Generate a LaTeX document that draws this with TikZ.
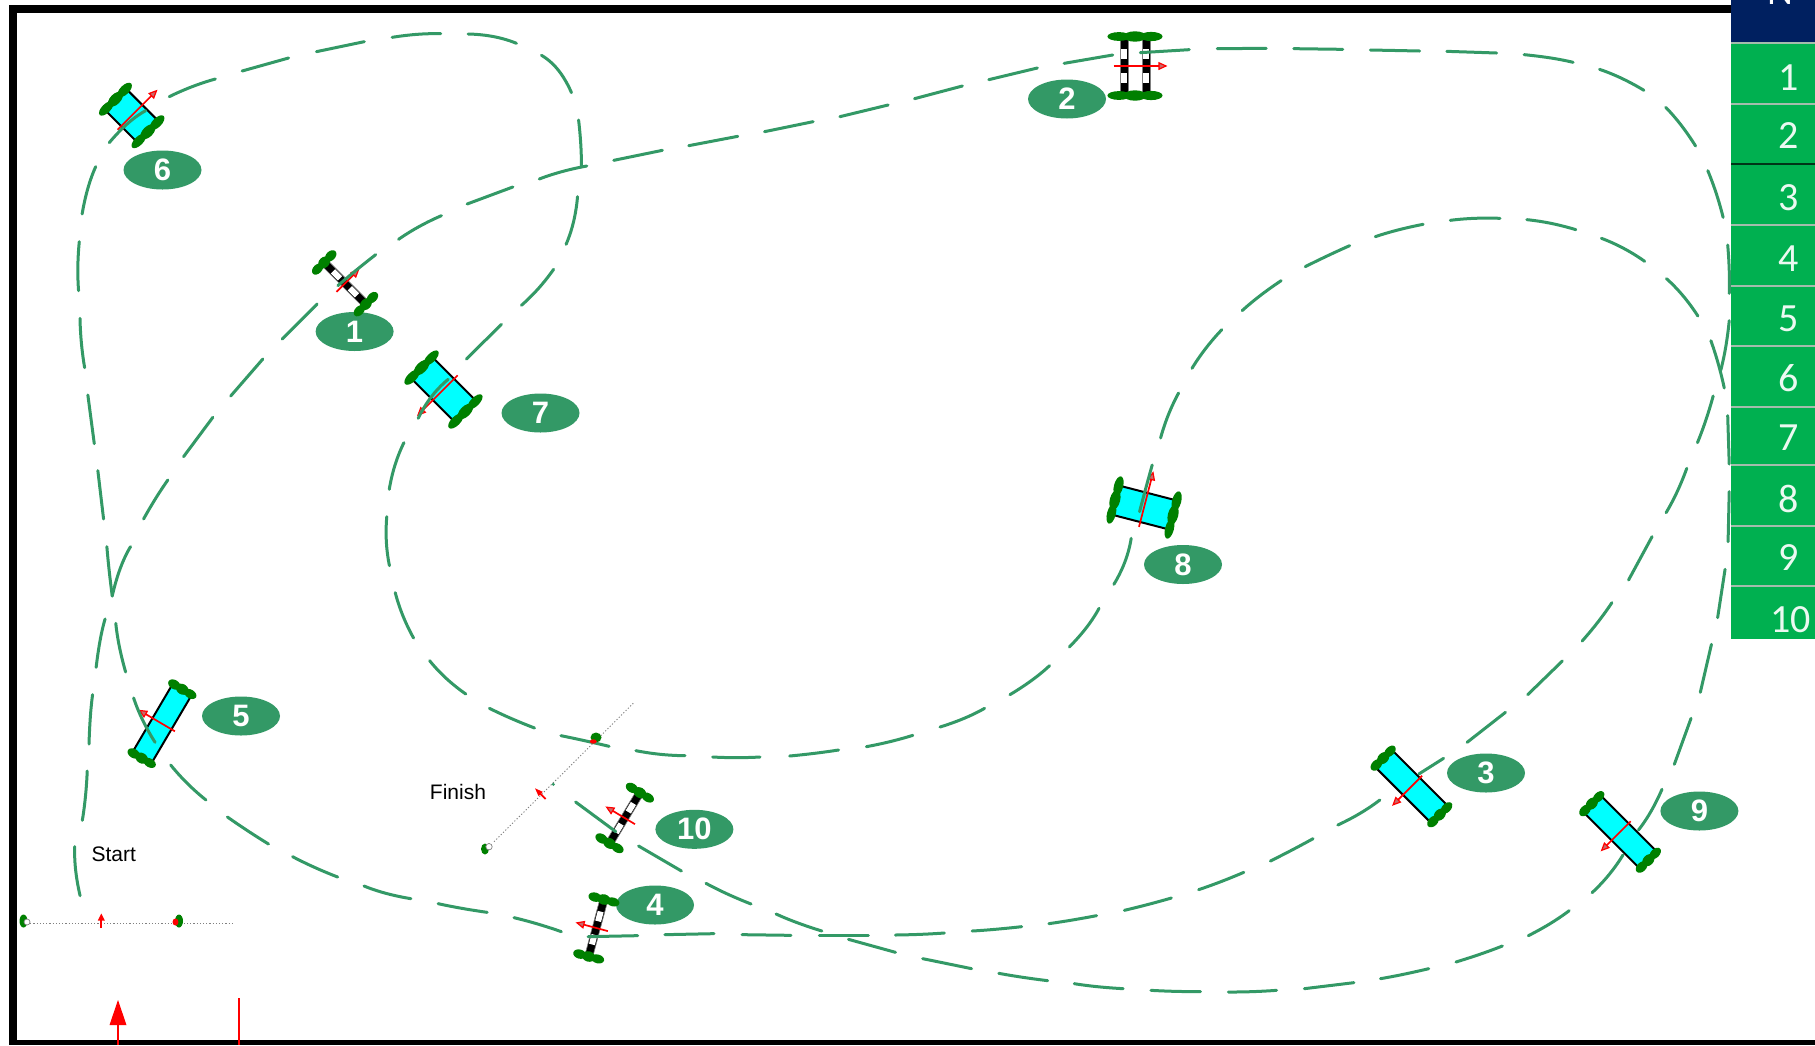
\documentclass[tikz,border=0pt]{standalone}
\usepackage{fontspec}
\setmainfont{Liberation Sans}
\newfontfamily\tablefont{Carlito}
\definecolor{trackc}{HTML}{339966}
\definecolor{wheelc}{HTML}{008000}
\definecolor{navyc}{HTML}{002060}
\definecolor{tablec}{HTML}{00B050}
\definecolor{headc}{HTML}{C86A6A}
\definecolor{carbody}{HTML}{00FFFF}
\definecolor{rowlinec}{HTML}{A4BCAC}
\tikzset{
  trackdash/.style={draw=trackc,line width=3pt,line cap=round},
  wheelblob/.style={fill=wheelc},
  carredline/.style={draw=red,line width=1.7pt},
  badge/.style={ellipse,fill=trackc,text=white,minimum width=78pt,minimum height=39pt,inner sep=0pt,font=\fontsize{31}{31}\selectfont\bfseries},
  rowno/.style={text=white!92!tablec,inner sep=0pt,font=\tablefont\fontsize{40}{40}\selectfont},
  rowline/.style={draw=rowlinec,line width=2pt},
  caption/.style={inner sep=0pt,font=\fontsize{21}{21}\selectfont},
  dotline/.style={draw=gray,line width=.9pt,dash pattern=on 1.2pt off 2pt},
  z8/.style={shift={(60pt,-20pt)},x=0.35714pt,y=-0.33333pt},
  z9/.style={shift={(60pt,-500pt)},x=0.44643pt,y=-0.33333pt},
  z10/.style={shift={(600pt,-30pt)},x=0.38265pt,y=-0.33333pt},
  z11/.style={shift={(1130pt,-30pt)},x=0.38265pt,y=-0.33333pt},
  z12/.style={shift={(760pt,-520pt)},x=0.61862pt,y=-0.33333pt},
}
\usetikzlibrary{shapes.geometric}
\newcommand{\trk}[1]{\draw[trackdash] plot[smooth,tension=1] coordinates {#1};}
\newcommand{\wheelbar}[2]{%
  \fill[wheelblob] ({-.62*#2},#1) ellipse [x radius={.44*#2*1pt},y radius=4.4pt];
  \fill[wheelblob] (0,#1) ellipse [x radius={.44*#2*1pt},y radius=5.2pt];
  \fill[wheelblob] ({.62*#2},#1) ellipse [x radius={.44*#2*1pt},y radius=4.6pt];}
\newcommand{\redarrow}[2]{%
  \draw[carredline] (-#1,0) -- ({#2-6},0);
  \filldraw[draw=red,fill=headc,line width=1.2pt] (#2,0) -- ({#2-7},3.2) -- ({#2-7},-3.2) -- cycle;}
% cx cy angle A B wheelhalf back front
\newcommand{\cyancar}[8]{%
  \begin{scope}[shift={(#1,#2)},rotate=#3]
    \fill[carbody] (-#5,-#4) rectangle (#5,#4);
    \draw[black,line width=2pt] (-#5,-#4) -- (-#5,#4) (#5,-#4) -- (#5,#4);
    \wheelbar{-#4}{#6}\wheelbar{#4}{#6}
    \redarrow{#7}{#8}
  \end{scope}}
\newcommand{\ladderbar}[2]{% x, half length
  \fill[black] ({#1-4},-#2) rectangle ({#1+4},#2);
  \draw[gray,line width=.6pt] ({#1-4},-#2) -- ({#1-4},#2) ({#1+4},-#2) -- ({#1+4},#2);
  \fill[white] ({#1-3},-17) rectangle ({#1+3},-7);
  \fill[white] ({#1-3},7) rectangle ({#1+3},17);}
\newcommand{\laddercar}[5]{%
  \begin{scope}[shift={(#1,#2)},rotate=#3]
    \ladderbar{0}{27}
    \wheelbar{-29.5}{15}\wheelbar{29.5}{15}
    \redarrow{#4}{#5}
  \end{scope}}
\begin{document}
\begin{tikzpicture}[x=1pt,y=-1pt]
\useasboundingbox (0,0) rectangle (1815,1045);
\fill[white] (0,0) rectangle (1815,1045);
% frame
\fill[black] (9,5) rectangle (1740,13);
\fill[black] (9,5) rectangle (17,1045);
\fill[black] (9,1040) rectangle (1815,1045);
% table
\fill[navyc] (1731,0) rectangle (1815,43);
\fill[tablec] (1731,43) rectangle (1815,639);
\node[rowno,text=white,anchor=base] (headN) at (1780,4) {N};
\foreach \yy in {43,104,225,286,346,406.5,465,526,586}{\draw[rowline] (1731,\yy) -- (1815,\yy);}
\draw[draw=black!70!tablec,line width=2pt] (1731,163.5) -- (1815,163.5);
\node[rowno] (r1) at (1789,78) {1};
\node[rowno] (r2) at (1789,136) {2};
\node[rowno] (r3) at (1789,198) {3};
\node[rowno] (r4) at (1789,259) {4};
\node[rowno] (r5) at (1789,319) {5};
\node[rowno] (r6) at (1789,378) {6};
\node[rowno] (r7) at (1789,438) {7};
\node[rowno] (r8) at (1789,499) {8};
\node[rowno] (r9) at (1789,558) {9};
\node[rowno] (r10) at (1790.5,620) {10};
% badges
\node[badge] (b1) at (354.6,331.5) {1};
\node[badge] (b2) at (1067,99) {2};
\node[badge] (b3) at (1486,773) {3};
\node[badge] (b4) at (655,905) {4};
\node[badge] (b5) at (241,716) {5};
\node[badge] (b6) at (162.5,170) {6};
\node[badge] (b7) at (540.5,413) {7};
\node[badge] (b8) at (1183,564.5) {8};
\node[badge] (b9) at (1699.4,811) {9};
\node[badge] (b10) at (694.4,829.3) {10};
% labels
\node[caption] (startlab) at (113.8,854) {Start};
\node[caption] (finishlab) at (458,791.7) {Finish};
% cars
\cyancar{131.7}{115.5}{45}{23}{15}{21}{20}{35}
\cyancar{443.5}{389.5}{225}{31}{15}{22}{20}{36}
\cyancar{1144}{507.5}{75.5}{30}{15}{23}{20}{36}
\cyancar{162}{723.7}{149.5}{40}{11}{15}{15}{26}
\cyancar{1411.5}{786.4}{225}{40}{12}{15.5}{15}{26}
\cyancar{1620.1}{831.9}{225}{40}{12}{15.5}{15}{26}
\laddercar{345}{283.3}{45}{12}{19}
\laddercar{596.3}{928}{165}{12}{20}
\laddercar{624.7}{818}{149}{12}{21}
\begin{scope}[shift={(1135,66)}]
  \ladderbar{-11}{27}\ladderbar{11}{27}
  \wheelbar{-29.5}{26}\wheelbar{29.5}{26}
  \redarrow{21.5}{31}
\end{scope}
% start and finish gates
\draw[dotline] (27,923.3) -- (232,923.3);
\fill[wheelblob] (23.5,921) ellipse [x radius=4pt,y radius=6.5pt];
\filldraw[draw=gray,fill=white,line width=.7pt] (27,922) circle (3pt);
\fill[wheelblob] (179,921) ellipse [x radius=4pt,y radius=6.5pt];
\fill[red] (175.5,922) ellipse [x radius=3pt,y radius=3.5pt];
\draw[carredline] (101.3,928) -- (101.3,917);
\fill[red] (101.3,913.5) -- (97.8,920.5) -- (104.8,920.5) -- cycle;
\draw[dotline] (494,841.7) -- (633.3,703.3);
\fill[wheelblob] (485,849) ellipse [x radius=4pt,y radius=5.5pt];
\filldraw[draw=gray,fill=white,line width=.7pt] (489,846.7) circle (3.2pt);
\fill[wheelblob] (596,737.5) ellipse [x radius=5.5pt,y radius=5pt];
\draw[carredline] (545.7,799) -- (538,791.3);
\fill[red] (535,788.3) -- (542.7,791.8) -- (538.5,796) -- cycle;
\fill[trackc] (553.3,784.3) circle (1.7pt);
% bottom red marks
\draw[draw=red,line width=2pt] (118,1020) -- (118,1045);
\fill[red] (118,1000) -- (109.5,1025) -- (126.5,1025) -- cycle;
\draw[draw=red,line width=1.6pt] (239,998) -- (239,1045);
% tracks, view 8
\begin{scope}[z8]
\trk{(138,368)(190,310)(240,272)}
\trk{(306,230)(370,200)(435,177)}
\trk{(510,153)(640,114)}
\trk{(718,95)(852,65)}
\trk{(930,52)(1000,43)(1066,41)}
\trk{(1143,42)(1215,50)(1278,70)}
\trk{(1348,106)(1395,150)(1432,218)}
\trk{(1452,300)(1458,370)(1460,437)}
\trk{(1449,530)(1438,605)(1417,673)}
\trk{(1382,748)(1340,805)(1292,856)}
\trk{(1236,913)(1138,1017)}
\trk{(1087,1078)(1040,1130)(1003,1195)}
\trk{(963,1268)(938,1335)(922,1408)}
\trk{(100,440)(78,505)(62,582)}
\trk{(54,665)(50,740)(52,812)}
\trk{(56,895)(60,970)(69,1043)}
\trk{(78,1125)(96,1271)}
\trk{(106,1352)(122,1497)}
\trk{(1475,438)(1405,455)(1342,477)}
\trk{(1268,501)(1140,552)}
\trk{(1068,587)(1005,620)(948,658)}
\trk{(884,704)(830,750)(778,797)}
\trk{(720,852)(622,957)}
\trk{(568,1017)(478,1128)}
\trk{(428,1192)(346,1310)}
\trk{(302,1380)(268,1435)(234,1497)}
\end{scope}
% view 10
\begin{scope}[z10]
\trk{(36,391)(163,361)}
\trk{(232,347)(360,319)}
\trk{(430,305)(557,275)}
\trk{(627,260)(753,225)}
\trk{(822,206)(947,168)}
\trk{(1016,149)(1143,114)}
\trk{(1213,100)(1340,75)}
\trk{(1412,68)(1540,59)}
\end{scope}
% view 11
\begin{scope}[z11]
\trk{(228,56)(356,55)}
\trk{(428,56)(556,58)}
\trk{(628,60)(757,63)}
\trk{(828,64)(958,69)}
\trk{(1030,74)(1100,84)(1158,97)}
\trk{(1227,118)(1285,145)(1343,181)}
\trk{(1400,232)(1440,285)(1478,348)}
\trk{(1510,422)(1532,490)(1550,562)}
\trk{(1562,645)(1566,720)(1566,790)}
\trk{(1566,872)(1557,950)(1544,1020)}
\trk{(1524,1098)(1505,1170)(1483,1238)}
\trk{(1455,1315)(1430,1385)(1401,1448)}
\trk{(80,1224)(100,1155)(127,1089)}
\trk{(162,1015)(198,955)(240,899)}
\trk{(293,842)(340,797)(395,752)}
\trk{(458,710)(515,678)(574,647)}
\trk{(641,620)(700,600)(766,583)}
\trk{(837,571)(900,565)(967,565)}
\trk{(1037,569)(1100,580)(1165,599)}
\trk{(1232,625)(1290,655)(1345,694)}
\trk{(1402,746)(1445,797)(1484,858)}
\trk{(1518,932)(1537,1000)(1553,1074)}
\trk{(1562,1157)(1566,1302)}
\trk{(1566,1385)(1563,1535)}
\trk{(58,1305)(40,1380)(25,1445)}
\end{scope}
% view 12
\begin{scope}[z12]
\trk{(1560,148)(1548,293)}
\trk{(1538,373)(1520,517)}
\trk{(1505,595)(1478,733)}
\trk{(1458,808)(1440,875)(1420,930)}
\trk{(1395,1005)(1372,1065)(1345,1118)}
\trk{(1308,1172)(1278,1210)(1242,1247)}
\trk{(1200,1278)(1165,1302)(1125,1326)}
\trk{(1081,1346)(1040,1363)(1003,1376)}
\trk{(960,1388)(920,1397)(880,1406)}
\trk{(835,1411)(795,1415)(757,1416)}
\trk{(712,1415)(670,1414)(632,1411)}
\trk{(587,1406)(545,1400)(508,1391)}
\trk{(465,1382)(425,1372)(386,1360)}
\trk{(342,1346)(300,1330)(263,1316)}
\trk{(219,1297)(180,1277)(143,1258)}
\trk{(100,1233)(60,1208)(26,1182)}
\trk{(600,55)(590,125)(572,193)}
\trk{(548,265)(528,322)(500,381)}
\trk{(468,437)(440,480)(404,524)}
\trk{(363,565)(330,595)(291,621)}
\trk{(247,646)(210,665)(172,680)}
\trk{(127,690)(88,700)(48,708)}
\trk{(1442,50)(1404,180)}
\trk{(1377,248)(1355,305)(1329,363)}
\trk{(1297,423)(1241,524)}
\trk{(1205,577)(1143,667)}
\trk{(1105,715)(1065,762)}
\trk{(1002,840)(970,880)(934,915)}
\trk{(894,956)(860,990)(825,1023)}
\trk{(782,1057)(745,1085)(709,1109)}
\trk{(665,1134)(628,1153)(589,1171)}
\trk{(544,1187)(505,1200)(467,1211)}
\trk{(423,1220)(380,1228)(343,1233)}
\trk{(298,1239)(260,1243)(219,1245)}
\trk{(175,1247)(96,1247)}
\trk{(50,1246)(-29,1244)}
\end{scope}
% view 9
\begin{scope}[z9]
\trk{(1462,771)(1515,773)(1568,771)}
\trk{(1290,752)(1345,763)(1400,767)}
\trk{(1122,707)(1175,722)(1230,739)}
\trk{(962,625)(1010,655)(1063,684)}
\trk{(828,482)(865,535)(909,582)}
\trk{(751,278)(768,347)(792,414)}
\trk{(732,50)(731,125)(738,197)}
\trk{(1447,1150)(1495,1182)(1548,1212)}
\trk{(1296,1038)(1392,1113)}
\trk{(1155,906)(1245,995)}
\trk{(1355,1304)(1465,1301)}
\trk{(1183,1310)(1294,1307)}
\trk{(1017,1253)(1070,1272)(1123,1295)}
\trk{(847,1211)(900,1225)(957,1237)}
\trk{(681,1158)(730,1180)(786,1196)}
\trk{(521,1070)(570,1102)(622,1131)}
\trk{(375,951)(420,992)(467,1032)}
\trk{(248,795)(285,850)(327,900)}
\trk{(165,594)(185,660)(213,727)}
\trk{(125,370)(133,440)(147,516)}
\trk{(105,140)(110,210)(117,288)}
\trk{(158,140)(135,205)(117,288)}
\trk{(101,357)(90,420)(81,502)}
\trk{(73,584)(68,650)(65,732)}
\trk{(61,813)(57,890)(50,961)}
\trk{(33,1040)(35,1110)(45,1187)}
\end{scope}
\fill[red] (593.3,741.5) ellipse [x radius=3.5pt,y radius=2.2pt];
\end{tikzpicture}
\end{document}
